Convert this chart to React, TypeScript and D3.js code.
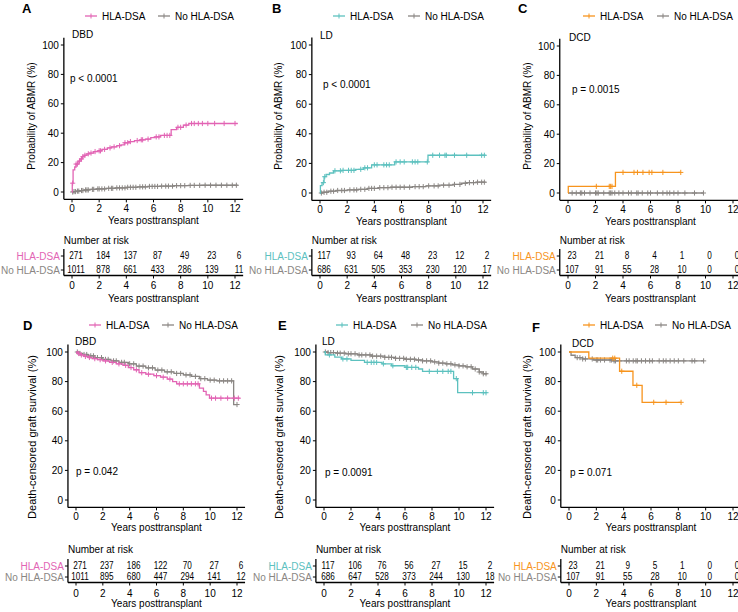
import React from "react";
import * as d3 from "d3";

// ---------- DATA ----------
const YEAR_TICKS = [0, 2, 4, 6, 8, 10, 12];
const Y_TICKS = [0, 20, 40, 60, 80, 100];
const GROUPS = ["HLA-DSA", "No HLA-DSA"];
const PANEL_LABELS = ["A", "B", "C", "D", "E", "F"];
const DONOR_TYPES = ["DBD", "LD", "DCD", "DBD", "LD", "DCD"];
const P_VALUES = ["p < 0.0001", "p < 0.0001", "p = 0.0015", "p = 0.042", "p = 0.0091", "p = 0.071"];
const Y_TITLES = ["Probability of ABMR (%)", "Death-censored graft survival (%)"];
const X_TITLE = "Years posttransplant";
const RISK_TITLE = "Number at risk";

// numbers at risk
const RISK_A_HLA = [271, 184, 137, 87, 49, 23, 6];
const RISK_A_NO = [1011, 878, 661, 433, 286, 139, 11];
const RISK_B_HLA = [117, 93, 64, 48, 23, 12, 2];
const RISK_B_NO = [686, 631, 505, 353, 230, 120, 17];
const RISK_C_HLA = [23, 21, 8, 4, 1, 0, 0];
const RISK_C_NO = [107, 91, 55, 28, 10, 0, 0];
const RISK_D_HLA = [271, 237, 186, 122, 70, 27, 6];
const RISK_D_NO = [1011, 895, 680, 447, 294, 141, 12];
const RISK_E_HLA = [117, 106, 76, 56, 27, 15, 2];
const RISK_E_NO = [686, 647, 528, 373, 244, 130, 18];
const RISK_F_HLA = [23, 21, 9, 5, 1, 0, 0];
const RISK_F_NO = [107, 91, 55, 28, 10, 0, 0];

// step curves: change times, values (%), end time, censor times
const A_HLA_T = [0, 0.02, 0.08, 0.2, 0.3, 0.45, 0.6, 0.75, 0.9, 1.1, 1.3, 1.6, 1.9, 2.2, 2.6, 2.9, 3.3, 3.6, 3.85, 4.2, 4.6, 5.0, 5.4, 5.8, 6.1, 6.5, 7.3, 7.7, 8.2, 8.6];
const A_HLA_V = [0, 6, 15, 17, 19, 21, 22.5, 24, 25, 26, 26.5, 27.5, 28, 29, 30, 30.7, 31.5, 32, 33.5, 34.3, 35, 35.5, 36, 37, 37.5, 38.5, 42.5, 44, 45.5, 46.6];
const A_HLA_END = 12.2;
const A_HLA_C = [0.05, 0.3, 0.4, 0.55, 0.7, 0.8, 0.95, 1.2, 1.4, 1.7, 2.0, 2.1, 2.4, 2.8, 3.1, 3.5, 3.9, 4.1, 4.3, 4.8, 5.1, 5.2, 5.6, 6.2, 6.4, 6.8, 7.0, 7.2, 7.8, 8.0, 8.4, 8.8, 9.0, 9.3, 9.6, 10.0, 10.5, 11.2, 12.0];

const A_NO_T = [0, 0.1, 0.3, 0.6, 0.9, 1.3, 1.8, 2.5, 3.2, 4.0, 4.8, 5.6, 6.5, 7.5, 8.6, 9.5];
const A_NO_V = [0, 0.3, 0.6, 1.0, 1.4, 1.8, 2.1, 2.5, 2.8, 3.2, 3.5, 3.8, 4.0, 4.3, 4.5, 4.6];
const A_NO_END = 12.2;
const A_NO_C = [0.05, 0.15, 0.25, 0.4, 0.5, 0.7, 0.8, 1.0, 1.1, 1.2, 1.5, 1.6, 1.9, 2.0, 2.2, 2.4, 2.7, 2.9, 3.0, 3.3, 3.5, 3.7, 3.9, 4.1, 4.3, 4.5, 4.7, 5.0, 5.2, 5.4, 5.7, 5.9, 6.1, 6.3, 6.6, 6.9, 7.1, 7.4, 7.7, 8.0, 8.3, 8.7, 9.0, 9.4, 9.8, 10.2, 10.6, 11.0, 11.4, 11.8, 12.1];

const B_HLA_T = [0, 0.03, 0.15, 0.3, 0.45, 0.7, 1.0, 1.6, 2.6, 3.2, 3.8, 5.5, 7.95];
const B_HLA_V = [0, 5, 7, 11, 12.5, 13.5, 15, 15.3, 16, 17, 19, 21, 25.5];
const B_HLA_END = 12.2;
const B_HLA_C = [0.25, 0.35, 1.1, 1.5, 1.7, 2.1, 2.3, 2.5, 3.0, 3.3, 3.5, 4.0, 4.2, 4.7, 4.9, 5.1, 5.6, 5.9, 6.2, 6.8, 7.0, 7.2, 7.9, 8.3, 8.8, 9.2, 9.3, 9.9, 10.8, 11.9, 12.1];

const B_NO_T = [0, 0.2, 0.6, 1.2, 2.0, 2.8, 3.5, 4.3, 5.2, 6.8, 7.8, 8.8, 9.8, 10.4, 10.8, 11.5];
const B_NO_V = [0, 0.5, 1.2, 1.7, 2.1, 2.5, 3.1, 3.6, 3.9, 4.3, 4.8, 5.3, 5.8, 6.6, 7.0, 7.3];
const B_NO_END = 12.2;
const B_NO_C = [0.1, 0.3, 0.5, 0.8, 1.0, 1.3, 1.6, 1.8, 2.2, 2.5, 2.7, 3.0, 3.3, 3.6, 3.8, 4.0, 4.4, 4.7, 5.0, 5.3, 5.6, 5.9, 6.2, 6.6, 7.0, 7.3, 7.6, 8.0, 8.4, 8.7, 9.1, 9.5, 9.9, 10.3, 10.7, 11.0, 11.3, 11.6, 11.9, 12.1];

const C_HLA_T = [0, 0.02, 3.45];
const C_HLA_V = [0, 4.5, 14];
const C_HLA_END = 8.2;
const C_HLA_C = [2.06, 3.0, 3.1, 3.2, 4.0, 4.8, 5.05, 5.45, 5.9, 6.1, 6.9, 8.2];

const C_NO_T = [0];
const C_NO_V = [0];
const C_NO_END = 9.85;
const C_NO_C = [0.3, 0.6, 0.9, 1.0, 1.2, 1.6, 2.0, 2.1, 2.2, 2.6, 3.0, 3.1, 3.2, 3.4, 3.7, 4.0, 4.4, 4.6, 5.0, 5.1, 5.4, 5.8, 6.0, 6.5, 6.9, 7.2, 7.4, 7.7, 8.0, 8.5, 9.2, 9.85];

const D_HLA_T = [0, 0.15, 0.35, 0.6, 0.9, 1.2, 1.6, 2.0, 2.5, 3.0, 3.5, 3.9, 4.3, 4.7, 5.2, 5.8, 6.3, 6.8, 7.2, 7.5, 9.2, 9.5, 9.7, 9.95];
const D_HLA_V = [100, 99, 98, 97, 96.3, 95.5, 94.8, 94, 93, 92, 91, 89.5, 88, 86, 85, 84, 83, 81.7, 80, 78.5, 75.6, 73.4, 71, 68.8];
const D_HLA_END = 12.2;
const D_HLA_C = [0.2, 0.4, 0.7, 1.0, 1.4, 1.8, 2.2, 2.7, 3.2, 3.7, 4.1, 4.5, 4.9, 5.4, 6.0, 6.5, 7.0, 7.7, 8.0, 8.3, 8.6, 8.9, 9.1, 10.1, 10.4, 10.8, 11.3, 11.8, 12.1];

const D_NO_T = [0, 0.2, 0.5, 0.9, 1.4, 2.0, 2.6, 3.2, 3.9, 4.5, 5.2, 5.9, 6.6, 7.3, 8.0, 8.6, 9.2, 9.8, 10.5, 11.75];
const D_NO_V = [100, 99, 98.3, 97.4, 96.2, 95, 94, 93, 92, 90.5, 89.3, 87.8, 86.6, 85.5, 84.5, 83.5, 82, 81, 80.5, 64.5];
const D_NO_END = 12.0;
const D_NO_C = [0.1, 0.3, 0.6, 0.8, 1.1, 1.3, 1.6, 1.9, 2.2, 2.4, 2.8, 3.0, 3.4, 3.6, 4.0, 4.3, 4.7, 5.0, 5.4, 5.7, 6.1, 6.4, 6.8, 7.1, 7.5, 7.8, 8.2, 8.5, 8.9, 9.3, 9.6, 10.0, 10.3, 10.7, 11.0, 11.3, 11.6, 12.0];

const E_HLA_T = [0, 0.1, 0.8, 1.3, 2.0, 3.0, 4.3, 5.0, 6.0, 7.0, 7.3, 9.6, 9.9];
const E_HLA_V = [100, 98, 96.5, 95.3, 94.4, 93, 92, 90.7, 89.6, 88.5, 86.9, 82, 72.5];
const E_HLA_END = 12.1;
const E_HLA_C = [0.4, 1.4, 1.7, 3.2, 3.5, 3.7, 3.9, 4.4, 5.1, 6.1, 6.2, 6.5, 6.8, 7.8, 8.4, 8.8, 9.2, 9.4, 9.8, 11.0, 11.8, 12.0];

const E_NO_T = [0, 0.3, 0.9, 1.6, 2.5, 3.5, 4.5, 5.3, 6.0, 6.8, 7.3, 8.0, 8.5, 9.0, 9.5, 10.0, 10.5, 11.0, 11.5, 11.8];
const E_NO_V = [100, 99.6, 99.2, 98.8, 98, 97.2, 96.4, 95.7, 95.1, 94.6, 94, 93.3, 92.5, 92, 91.3, 90.6, 90, 88.5, 86.5, 85.3];
const E_NO_END = 12.1;
const E_NO_C = [0.1, 0.3, 0.5, 0.7, 1.0, 1.2, 1.5, 1.8, 2.0, 2.3, 2.6, 2.8, 3.1, 3.4, 3.6, 3.9, 4.2, 4.5, 4.8, 5.0, 5.3, 5.6, 5.9, 6.1, 6.4, 6.7, 7.0, 7.3, 7.6, 7.9, 8.2, 8.5, 8.8, 9.1, 9.4, 9.7, 10.0, 10.3, 10.6, 10.9, 11.2, 11.5, 11.8, 12.0];

const F_HLA_T = [0, 1.45, 3.7, 4.68, 5.35];
const F_HLA_V = [100, 95.8, 87, 77.5, 66];
const F_HLA_END = 8.2;
const F_HLA_C = [3.2, 3.35, 3.86, 4.96, 6.2, 7.1, 8.2];

const F_NO_T = [0, 0.15, 0.45, 1.0, 1.8, 3.2];
const F_NO_V = [100, 97.8, 96.2, 95.3, 94.6, 94];
const F_NO_END = 9.85;
const F_NO_C = [0.6, 0.8, 1.0, 1.2, 1.7, 2.0, 2.1, 2.3, 2.6, 3.0, 3.1, 3.3, 3.4, 3.7, 4.2, 4.4, 4.7, 4.9, 5.0, 5.3, 5.6, 5.9, 6.1, 6.6, 6.9, 7.1, 7.4, 7.7, 8.0, 8.4, 9.0, 9.2, 9.85];

// ---------- STYLE / LAYOUT ----------
const FONT = "'Liberation Sans', Arial, Helvetica, sans-serif";
const GRAY = "#8a8683";
const GROUP_COLORS = ["#E264B4", "#5DC1BF", "#F7941D"];

type Curve = { t: number[]; v: number[]; end: number; c: number[] };
const mk = (t: number[], v: number[], end: number, c: number[]): Curve => ({ t, v, end, c });

const CURVES: [Curve, Curve][] = [
  [mk(A_HLA_T, A_HLA_V, A_HLA_END, A_HLA_C), mk(A_NO_T, A_NO_V, A_NO_END, A_NO_C)],
  [mk(B_HLA_T, B_HLA_V, B_HLA_END, B_HLA_C), mk(B_NO_T, B_NO_V, B_NO_END, B_NO_C)],
  [mk(C_HLA_T, C_HLA_V, C_HLA_END, C_HLA_C), mk(C_NO_T, C_NO_V, C_NO_END, C_NO_C)],
  [mk(D_HLA_T, D_HLA_V, D_HLA_END, D_HLA_C), mk(D_NO_T, D_NO_V, D_NO_END, D_NO_C)],
  [mk(E_HLA_T, E_HLA_V, E_HLA_END, E_HLA_C), mk(E_NO_T, E_NO_V, E_NO_END, E_NO_C)],
  [mk(F_HLA_T, F_HLA_V, F_HLA_END, F_HLA_C), mk(F_NO_T, F_NO_V, F_NO_END, F_NO_C)],
];
const RISKS: [number[], number[]][] = [
  [RISK_A_HLA, RISK_A_NO], [RISK_B_HLA, RISK_B_NO], [RISK_C_HLA, RISK_C_NO],
  [RISK_D_HLA, RISK_D_NO], [RISK_E_HLA, RISK_E_NO], [RISK_F_HLA, RISK_F_NO],
];

type Layout = {
  x0: number; x12: number; y0: number; y100: number;
  lab: [number, number]; leg: [number, number, number]; donor: [number, number];
  p: [number, number]; yTitleX: number; yTitleY: number; yTitleFs: number;
  nar: number; r1: number; r2: number; tAxis: number; tTick: number; tTitle: number;
  tickDy: number; titleDy: number;
};
const TOP = { nar: 240, r1: 256, r2: 270, tAxis: 275.5, tTick: 285, tTitle: 298.5, tickDy: 9.5, titleDy: 21.5, yTitleY: 116, yTitleFs: 10 };
const BOT = { nar: 549, r1: 566, r2: 577, tAxis: 582.5, tTick: 593, tTitle: 603, tickDy: 9, titleDy: 20, yTitleY: 437, yTitleFs: 11 };
const LAYOUT: Layout[] = [
  { ...TOP, x0: 72, x12: 235, y0: 192, y100: 45, lab: [22, 8], leg: [85, 158, 16], donor: [72, 34], p: [70, 78], yTitleX: 31 },
  { ...TOP, x0: 320, x12: 483, y0: 193, y100: 45, lab: [272, 8], leg: [333, 408, 16], donor: [320, 35], p: [323, 84], yTitleX: 278 },
  { ...TOP, x0: 568, x12: 733, y0: 193, y100: 46, lab: [518, 8], leg: [583, 657, 16], donor: [569, 37], p: [572, 89], yTitleX: 527 },
  { ...BOT, x0: 76, x12: 237, y0: 500, y100: 352, lab: [23, 325], leg: [89, 162, 325], donor: [75, 341], p: [76, 471], yTitleX: 32 },
  { ...BOT, x0: 324, x12: 486, y0: 500, y100: 352, lab: [278, 325], leg: [336, 411, 325], donor: [322, 341], p: [325, 472], yTitleX: 279 },
  { ...BOT, x0: 569, x12: 733, y0: 500, y100: 352, lab: [532, 327], leg: [583, 655, 325], donor: [572, 343], p: [570, 472], yTitleX: 527 },
];

function stepValue(c: Curve, time: number) {
  let idx = 0;
  for (let i = 0; i < c.t.length; i++) if (c.t[i] <= time) idx = i;
  return c.v[idx];
}

function plus(x: number, y: number, s = 2.6) {
  return `M${x - s},${y}H${x + s}M${x},${y - s}V${y + s}`;
}

function Panel({ i }: { i: number }) {
  const L = LAYOUT[i];
  const color = GROUP_COLORS[i % 3];
  const colors = [color, GRAY];
  const x = d3.scaleLinear().domain([0, 12]).range([L.x0, L.x12]);
  const y = d3.scaleLinear().domain([0, 100]).range([L.y0, L.y100]);
  const xLeft = x(-0.6), xRight = x(12.6);
  const yBottom = y(-5), yTop = y(105);
  const line = d3.line<[number, number]>().x((d) => x(d[0])).y((d) => y(d[1])).curve(d3.curveStepAfter);
  const fs = 10;
  const txt = { fontFamily: FONT, fontSize: fs } as const;
  const yTitle = Y_TITLES[i < 3 ? 0 : 1];

  return (
    <g>
      <text x={L.lab[0]} y={L.lab[1]} dominantBaseline="central" fontFamily={FONT} fontWeight="bold" fontSize={13}>{PANEL_LABELS[i]}</text>
      {/* legend */}
      {GROUPS.map((g, k) => {
        const lx = k === 0 ? L.leg[0] : L.leg[1];
        return (
          <g key={g}>
            <line x1={lx} x2={lx + 12} y1={L.leg[2]} y2={L.leg[2]} stroke={colors[k]} strokeWidth={1.3} />
            <path d={`M${lx + 6},${L.leg[2] - 2.5}V${L.leg[2] + 2.5}`} stroke={colors[k]} strokeWidth={1} />
            <text x={lx + 17} y={L.leg[2]} dominantBaseline="central" {...txt}>{g}</text>
          </g>
        );
      })}
      {/* axes */}
      <line x1={xLeft} x2={xLeft} y1={yTop} y2={yBottom} stroke="#000" strokeWidth={1.3} />
      <line x1={xLeft} x2={xRight} y1={yBottom} y2={yBottom} stroke="#000" strokeWidth={1.3} />
      {Y_TICKS.map((t) => (
        <g key={"y" + t}>
          <line x1={xLeft - 3} x2={xLeft} y1={y(t)} y2={y(t)} stroke="#000" strokeWidth={1} />
          <text x={xLeft - 5} y={y(t)} textAnchor="end" dominantBaseline="central" {...txt}>{t}</text>
        </g>
      ))}
      {YEAR_TICKS.map((t) => (
        <g key={"x" + t}>
          <line x1={x(t)} x2={x(t)} y1={yBottom} y2={yBottom + 3} stroke="#000" strokeWidth={1} />
          <text x={x(t)} y={yBottom + L.tickDy} textAnchor="middle" dominantBaseline="central" {...txt}>{t}</text>
        </g>
      ))}
      <text x={(L.x0 + L.x12) / 2} y={yBottom + L.titleDy} textAnchor="middle" dominantBaseline="central" {...txt}>{X_TITLE}</text>
      <text transform={`translate(${L.yTitleX},${L.yTitleY}) rotate(-90)`} textAnchor="middle" dominantBaseline="central" fontFamily={FONT} fontSize={L.yTitleFs}>{yTitle}</text>
      <text x={L.donor[0]} y={L.donor[1]} dominantBaseline="central" {...txt}>{DONOR_TYPES[i]}</text>
      <text x={L.p[0]} y={L.p[1]} dominantBaseline="central" {...txt}>{P_VALUES[i]}</text>
      {/* curves: gray first, then colored */}
      {[1, 0].map((k) => {
        const c = CURVES[i][k];
        const pts: [number, number][] = c.t.map((t, j) => [t, c.v[j]] as [number, number]);
        pts.push([c.end, c.v[c.v.length - 1]]);
        return (
          <g key={"c" + k}>
            <path d={line(pts) || ""} fill="none" stroke={colors[k]} strokeWidth={1.3} />
            <path d={c.c.map((t) => plus(x(t), y(stepValue(c, t)))).join("")} stroke={colors[k]} strokeWidth={1} fill="none" />
          </g>
        );
      })}
      {/* risk table */}
      <text x={xLeft} y={L.nar} dominantBaseline="central" {...txt}>{RISK_TITLE}</text>
      <line x1={xLeft} x2={xLeft} y1={L.r1 - 7} y2={L.tAxis} stroke="#000" strokeWidth={1.3} />
      <line x1={xLeft} x2={xRight} y1={L.tAxis} y2={L.tAxis} stroke="#000" strokeWidth={1.3} />
      {[L.r1, L.r2].map((ry, k) => (
        <g key={"r" + k}>
          <line x1={xLeft - 3} x2={xLeft} y1={ry} y2={ry} stroke="#000" strokeWidth={1} />
          <text x={xLeft - 4} y={ry} textAnchor="end" dominantBaseline="central" {...txt} fill={colors[k]}>{GROUPS[k]}</text>
          {RISKS[i][k].map((n, j) => (
            <text key={j} transform={`translate(${x(YEAR_TICKS[j]) + 4},${ry}) scale(0.82,1)`} textAnchor="middle" dominantBaseline="central" {...txt}>{n}</text>
          ))}
        </g>
      ))}
      {YEAR_TICKS.map((t) => (
        <g key={"tx" + t}>
          <line x1={x(t)} x2={x(t)} y1={L.tAxis} y2={L.tAxis + 3} stroke="#000" strokeWidth={1} />
          <text x={x(t)} y={L.tTick} textAnchor="middle" dominantBaseline="central" {...txt}>{t}</text>
        </g>
      ))}
      <text x={(L.x0 + L.x12) / 2} y={L.tTitle} textAnchor="middle" dominantBaseline="central" {...txt}>{X_TITLE}</text>
    </g>
  );
}

export default function App() {
  return (
    <svg width={738} height={612} style={{ position: "absolute", left: 0, top: 0, background: "#fff" }}>
      <rect width={738} height={612} fill="#fff" />
      {PANEL_LABELS.map((_, i) => <Panel key={i} i={i} />)}
    </svg>
  );
}
